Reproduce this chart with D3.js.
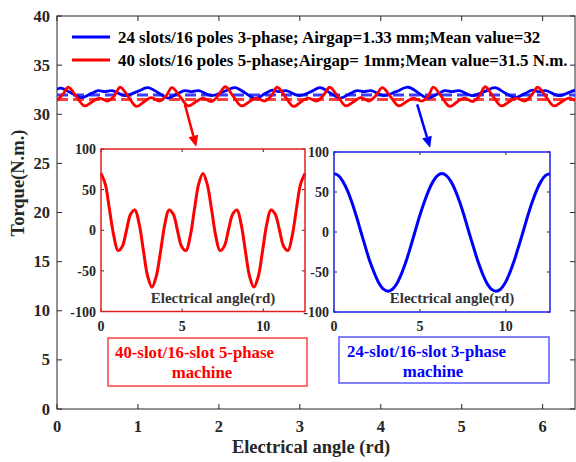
<!DOCTYPE html>
<html><head><meta charset="utf-8">
<script src="https://cdn.jsdelivr.net/npm/d3@7/dist/d3.min.js"></script>
<style>body{margin:0;background:#fff}svg{display:block}</style>
</head><body><svg id="c" width="576" height="462" font-family="'Liberation Serif', 'Times New Roman', serif" font-weight="bold"></svg>
<script>
// ---------- DATA ----------
const xTicks = [0,1,2,3,4,5,6];
const yTicks = [0,5,10,15,20,25,30,35,40];
const legendLabels = ["24 slots/16 poles 3-phase; Airgap=1.33 mm;Mean value=32",
                      "40 slots/16 poles 5-phase;Airgap= 1mm;Mean value=31.5 N.m."];
const blueMean = 31.95;
const redMean = 31.5;
const blueX = [0,0.05,0.17,0.30,0.42,0.51,0.59,0.68,0.84,0.99,
  1.12,1.25,1.37,1.49,1.58,1.66,1.75,1.91,2.06,
  2.20,2.32,2.45,2.57,2.66,2.74,2.83,2.99,3.14,
  3.25,3.37,3.50,3.62,3.71,3.79,3.88,4.04,4.19,
  4.34,4.46,4.58,4.71,4.79,4.88,4.97,5.13,5.28,
  5.41,5.53,5.66,5.78,5.87,5.95,6.04,6.20,6.35,6.40];
const blueY = [32.55,32.65,32.2,31.7,32.1,32.4,32.3,32.4,31.9,32.3,
  32.7,32.2,31.65,32.1,32.4,32.3,32.4,31.9,32.3,
  32.7,32.2,31.6,32.1,32.45,32.3,32.4,31.9,32.3,
  32.7,32.2,31.65,32.1,32.4,32.3,32.4,31.9,32.3,
  32.75,32.2,31.65,32.1,32.4,32.3,32.4,31.9,32.3,
  32.7,32.2,31.7,32.1,32.45,32.3,32.4,31.9,32.3,32.45];
const redX = [0,0.07,0.14,0.24,0.34,0.44,0.52,0.63,0.71,
  0.78,0.88,0.98,1.08,1.16,1.27,1.35,
  1.42,1.52,1.62,1.72,1.80,1.91,1.99,
  2.08,2.18,2.28,2.38,2.46,2.57,2.65,
  2.72,2.82,2.92,3.02,3.10,3.21,3.29,
  3.37,3.47,3.57,3.67,3.75,3.86,3.94,
  4.02,4.12,4.22,4.32,4.40,4.51,4.59,
  4.65,4.75,4.85,4.95,5.03,5.14,5.22,
  5.29,5.39,5.49,5.59,5.67,5.78,5.86,
  5.94,6.04,6.14,6.24,6.32,6.40];
const redY = [31.4,32.0,32.75,31.8,30.85,31.3,31.65,31.35,31.9,
  32.75,31.8,30.8,31.3,31.7,31.35,31.9,
  32.7,31.8,30.85,31.3,31.65,31.3,31.9,
  32.8,31.8,30.85,31.3,31.65,31.35,31.9,
  32.75,31.8,30.8,31.3,31.65,31.35,31.9,
  32.75,31.8,30.85,31.3,31.7,31.35,31.9,
  32.7,31.8,30.85,31.3,31.65,31.35,31.9,
  32.75,31.8,30.8,31.3,31.65,31.3,31.9,
  32.8,31.8,30.85,31.3,31.65,31.35,31.9,
  32.75,31.8,30.85,31.3,31.65,31.4];
// inset data (electrical angle 0..4pi)
const insetX = [0,0.26,0.52,0.79,1.05,1.31,1.57,1.83,2.09,2.36,2.62,2.88,3.14,
  3.40,3.67,3.93,4.19,4.45,4.71,4.97,5.24,5.50,5.76,6.02,6.28,
  6.54,6.81,7.07,7.33,7.59,7.85,8.12,8.38,8.64,8.90,9.16,9.42,
  9.69,9.95,10.21,10.47,10.73,11.00,11.26,11.52,11.78,12.04,12.30,12.57];
const insetRedY = [70,57,26,-7,-25,-20,0,20,25,7,-26,-57,-70,
  -57,-26,7,25,20,0,-20,-25,-7,26,57,70,
  57,26,-7,-25,-20,0,20,25,7,-26,-57,-70,
  -57,-26,7,25,20,0,-20,-25,-7,26,57,70];
const insetBlueY = [73,70.5,63,51.5,36.5,19,0,-19,-37,-52,-64,-71.5,-74,
  -71.5,-64,-52,-37,-19,0,19,36.5,51.5,63,70.5,73,
  70.5,63,51.5,36.5,19,0,-19,-37,-52,-64,-71.5,-74,
  -71.5,-64,-52,-37,-19,0,19,36.5,51.5,63,70.5,73];
const insetXTicks = [0,5,10];
const insetYTicks = [-100,-50,0,50,100];
const insetXLabel = "Electrical angle(rd)";
const noteRed = ["40-slot/16-slot 5-phase","machine"];
const noteBlue = ["24-slot/16-slot 3-phase","machine"];
const xLabel = "Electrical angle (rd)";
const yLabel = "Torque(N.m.)";

// ---------- DRAW ----------
const svg = d3.select("#c");
const axCol = "#262626";
const L=57,R=575,T=16,B=409;
const x = d3.scaleLinear().domain([0,6.4]).range([L,R]);
const y = d3.scaleLinear().domain([0,40]).range([B,T]);

const g = svg.append("g");
const tl = 5;
g.selectAll(".xt").data(xTicks).join("g").each(function(d){
  const s=d3.select(this);
  s.append("line").attr("x1",x(d)).attr("x2",x(d)).attr("y1",B).attr("y2",B-tl).attr("stroke",axCol);
  s.append("line").attr("x1",x(d)).attr("x2",x(d)).attr("y1",T).attr("y2",T+tl).attr("stroke",axCol);
  s.append("text").attr("x",x(d)).attr("y",B+23).attr("text-anchor","middle").attr("font-size",16.5).attr("fill",axCol).text(d);
});
g.selectAll(".yt").data(yTicks).join("g").each(function(d){
  const s=d3.select(this);
  s.append("line").attr("x1",L).attr("x2",L+tl).attr("y1",y(d)).attr("y2",y(d)).attr("stroke",axCol);
  s.append("line").attr("x1",R).attr("x2",R-tl).attr("y1",y(d)).attr("y2",y(d)).attr("stroke",axCol);
  s.append("text").attr("x",L-7).attr("y",y(d)+5.5).attr("text-anchor","end").attr("font-size",16.5).attr("fill",axCol).text(d);
});
g.append("rect").attr("x",L).attr("y",T).attr("width",R-L).attr("height",B-T).attr("fill","none").attr("stroke",axCol).attr("stroke-width",1);

svg.append("text").attr("x",311).attr("y",453).attr("text-anchor","middle").attr("font-size",18.5).attr("fill",axCol).text(xLabel);
svg.append("text").attr("transform","translate(24,183) rotate(-90)").attr("text-anchor","middle").attr("font-size",18.5).attr("fill",axCol).text(yLabel);

// lines
svg.append("clipPath").attr("id","pc").append("rect").attr("x",L).attr("y",T).attr("width",R-L).attr("height",B-T);
const lg = svg.append("g").attr("clip-path","url(#pc)");
const line = d3.line().x(d=>x(d[0])).y(d=>y(d[1])).curve(d3.curveCatmullRom.alpha(0.5));
lg.append("line").attr("x1",x(0)).attr("x2",x(6.4)).attr("y1",y(blueMean)).attr("y2",y(blueMean)).attr("stroke","#3d3dff").attr("stroke-width",3).attr("stroke-dasharray","11,5");
lg.append("line").attr("x1",x(0)).attr("x2",x(6.4)).attr("y1",y(redMean)).attr("y2",y(redMean)).attr("stroke","#ff3d3d").attr("stroke-width",3).attr("stroke-dasharray","11,5");
lg.append("path").attr("d",line(blueX.map((v,i)=>[v,blueY[i]]))).attr("fill","none").attr("stroke","#0000ff").attr("stroke-width",2.8);
lg.append("path").attr("d",line(redX.map((v,i)=>[v,redY[i]]))).attr("fill","none").attr("stroke","#ff0000").attr("stroke-width",2.8);

// legend
const legCols = ["#0000ff","#ff0000"];
legendLabels.forEach((t,i)=>{
  const yy = 37 + i*23;
  svg.append("line").attr("x1",72).attr("x2",110).attr("y1",yy).attr("y2",yy).attr("stroke",legCols[i]).attr("stroke-width",3);
  svg.append("text").attr("x",118).attr("y",yy+5.5).attr("font-size",16.9).attr("fill","#000").text(t);
});

// insets
function inset(box, vals, col, boxCol){
  const ix = d3.scaleLinear().domain([0,12.57]).range([box.l,box.r]);
  const iy = d3.scaleLinear().domain([-100,100]).range([box.b,box.t]);
  const ig = svg.append("g");
  ig.append("rect").attr("x",box.l).attr("y",box.t).attr("width",box.r-box.l).attr("height",box.b-box.t).attr("fill","#fff");
  insetXTicks.forEach(d=>{
    ig.append("line").attr("x1",ix(d)).attr("x2",ix(d)).attr("y1",box.b).attr("y2",box.b-3).attr("stroke",axCol);
    ig.append("line").attr("x1",ix(d)).attr("x2",ix(d)).attr("y1",box.t).attr("y2",box.t+3).attr("stroke",axCol);
    ig.append("text").attr("x",ix(d)).attr("y",box.b+19).attr("text-anchor","middle").attr("font-size",14).attr("fill",axCol).text(d);
  });
  insetYTicks.forEach(d=>{
    ig.append("line").attr("x1",box.l).attr("x2",box.l+3).attr("y1",iy(d)).attr("y2",iy(d)).attr("stroke",axCol);
    ig.append("line").attr("x1",box.r).attr("x2",box.r-3).attr("y1",iy(d)).attr("y2",iy(d)).attr("stroke",axCol);
    ig.append("text").attr("x",box.l-5).attr("y",iy(d)+5).attr("text-anchor","end").attr("font-size",14).attr("fill",axCol).text(d);
  });
  const il = d3.line().x(d=>ix(d[0])).y(d=>iy(d[1])).curve(d3.curveCatmullRom.alpha(0.5));
  ig.append("path").attr("d",il(insetX.map((v,i)=>[v,vals[i]]))).attr("fill","none").attr("stroke",col).attr("stroke-width",3);
  ig.append("text").attr("x",(box.l+box.r)/2+10).attr("y",box.b-9).attr("text-anchor","middle").attr("font-size",15).attr("fill","#333").text(insetXLabel);
  ig.append("rect").attr("x",box.l).attr("y",box.t).attr("width",box.r-box.l).attr("height",box.b-box.t).attr("fill","none").attr("stroke",boxCol).attr("stroke-width",1.5);
}
inset({l:101,r:305,t:149,b:311.5}, insetRedY, "#ff0000", "#e02020");
inset({l:334,r:550,t:152,b:312}, insetBlueY, "#0000ff", "#2020e0");

// notes
function note(bx, lines, col, boxCol, x1, y1, cx){
  svg.append("rect").attr("x",bx.x).attr("y",bx.y).attr("width",bx.w).attr("height",bx.h).attr("fill","#fff").attr("stroke",boxCol).attr("stroke-width",1.5);
  svg.append("text").attr("x",x1).attr("y",y1).attr("font-size",16.8).attr("fill",col).text(lines[0]);
  svg.append("text").attr("x",cx).attr("y",y1+20).attr("text-anchor","middle").attr("font-size",16.8).attr("fill",col).text(lines[1]);
}
note({x:108,y:338,w:199,h:48}, noteRed, "#ff0000", "#ff4040", 115, 358, 202);
note({x:339,y:337,w:210,h:46}, noteBlue, "#0000ff", "#5a5aff", 347, 357, 433);

// arrows
function arrow(xa,ya,xb,yb,col){
  const x0=x(xa),y0=y(ya),x1=x(xb),y1=y(yb);
  const ang=Math.atan2(y1-y0,x1-x0), hl=11, hw=5;
  const bx=x1-hl*Math.cos(ang), by=y1-hl*Math.sin(ang);
  svg.append("line").attr("x1",x0).attr("y1",y0).attr("x2",bx).attr("y2",by).attr("stroke",col).attr("stroke-width",2.5);
  const p=[[x1,y1],[bx+hw*Math.sin(ang),by-hw*Math.cos(ang)],[bx-hw*Math.sin(ang),by+hw*Math.cos(ang)]];
  svg.append("path").attr("d","M"+p.map(q=>q.join(",")).join("L")+"Z").attr("fill",col);
}
arrow(1.58,31.0,1.72,26.7,"#ff0000");
arrow(4.45,31.0,4.61,26.6,"#0000ff");
</script></body></html>
